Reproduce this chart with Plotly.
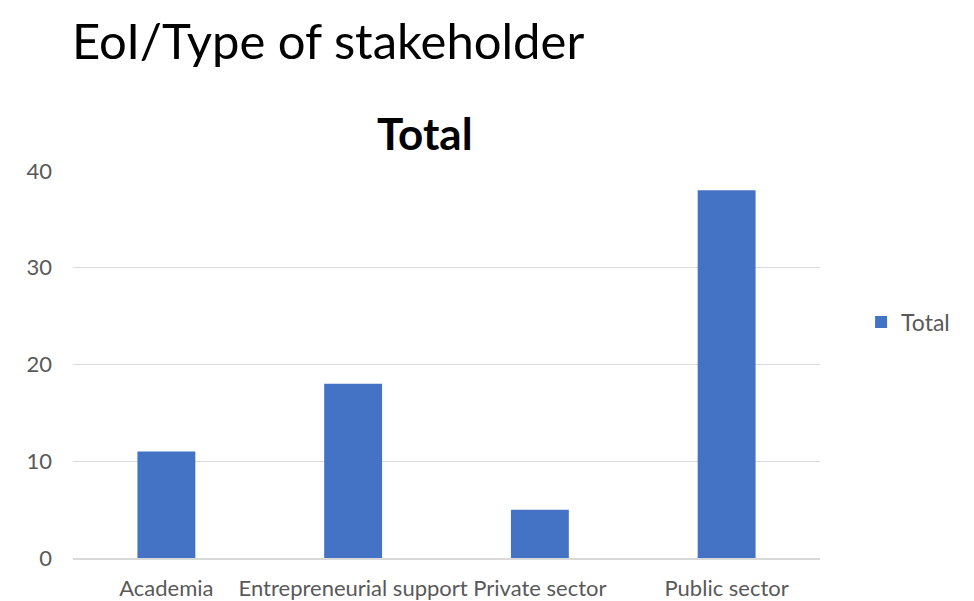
import plotly.graph_objects as go

categories = ["Academia", "Entrepreneurial support", "Private sector", "Public sector"]
values = [11, 18, 5, 38]
y_ticks = [0, 10, 20, 30, 40]

FONT = "Lato"
OFF = 8  # page body margin offset
H = 593
L, R, T = 73 - OFF, 154 + OFF, 171 - OFF
B = H - (558 - OFF)

fig = go.Figure()
fig.add_trace(go.Bar(x=categories, y=values, name="Total", marker_color="#4472C4",
                     marker_line_width=0))

fig.update_layout(
    width=966, height=H, autosize=False,
    paper_bgcolor="white", plot_bgcolor="white",
    margin=dict(l=L, r=R - 8, t=T, b=B, autoexpand=False),
    bargap=0.69,
    font=dict(family=FONT, color="#595959", size=22),
    showlegend=True,
    legend=dict(x=1.055, y=0.61, xanchor="left", yanchor="middle",
                font=dict(size=23, color="#595959"), itemwidth=30),
)
fig.add_annotation(text="EoI/Type of stakeholder", x=0, y=1, xref="paper", yref="paper",
                   xanchor="left", yanchor="top", xshift=-3, yshift=T - 1,
                   showarrow=False, font=dict(size=49, color="black", family=FONT))
fig.add_annotation(text="<b>Total</b>", x=0.471, y=1, xref="paper", yref="paper",
                   xanchor="center", yanchor="middle", yshift=171 - 133,
                   showarrow=False, font=dict(size=44, color="black", family=FONT))

fig.update_yaxes(range=[0, 40], tickvals=y_ticks, showgrid=True, gridcolor="#D9D9D9",
                 gridwidth=1.3, zeroline=False, showline=False, ticks="", ticklabelstandoff=20,
                 tickfont=dict(size=22, color="#595959"), automargin=False)
fig.update_xaxes(showline=True, linecolor="#D9D9D9", linewidth=1.5, ticks="",
                 tickfont=dict(size=22, color="#595959"), ticklabelstandoff=10,
                 automargin=False)

fig.write_html("out.html")
